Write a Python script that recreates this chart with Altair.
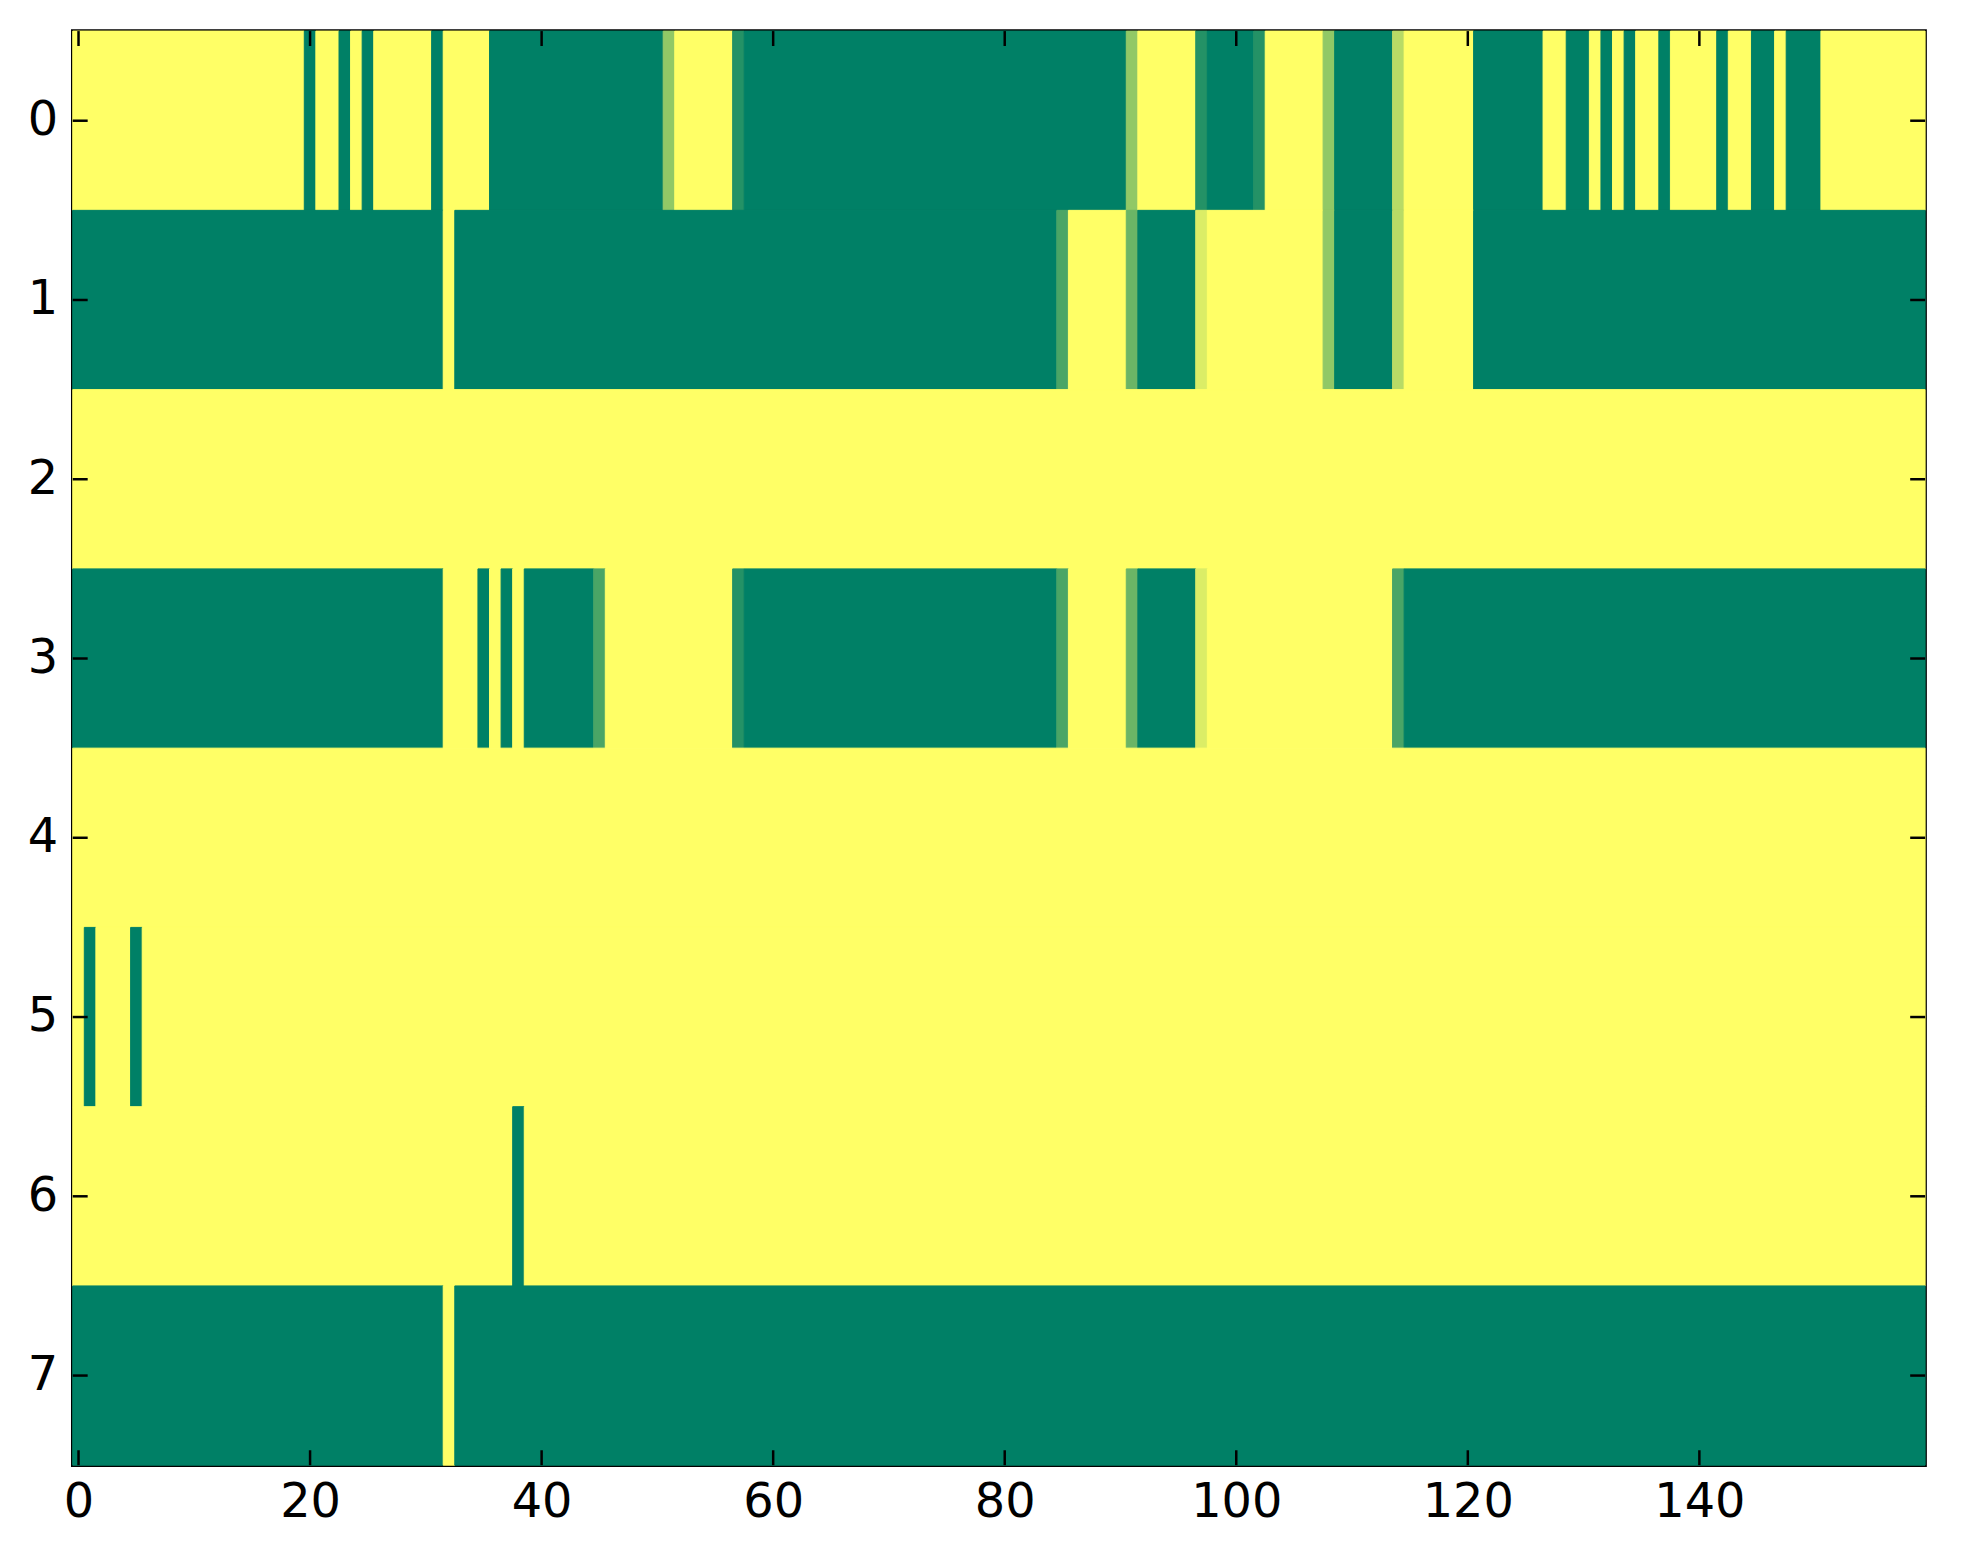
import pandas as pd
import altair as alt

# each row of the image as runs of (first column, last column, value)
ROW_0 = [(0, 19, 1), (20, 20, 0), (21, 22, 1), (23, 23, 0), (24, 24, 1), (25, 25, 0),
         (26, 30, 1), (31, 31, 0), (32, 35, 1), (36, 50, 0), (51, 51, 0.57), (52, 56, 1),
         (57, 57, 0.14), (58, 90, 0), (91, 91, 0.57), (92, 96, 1), (97, 97, 0.14),
         (98, 101, 0), (102, 102, 0.14), (103, 107, 1), (108, 108, 0.57), (109, 113, 0),
         (114, 114, 0.72), (115, 120, 1), (121, 126, 0), (127, 128, 1), (129, 130, 0),
         (131, 131, 1), (132, 132, 0), (133, 133, 1), (134, 134, 0), (135, 136, 1),
         (137, 137, 0), (138, 141, 1), (142, 142, 0), (143, 144, 1), (145, 146, 0),
         (147, 147, 1), (148, 150, 0), (151, 159, 1)]
ROW_1 = [(0, 31, 0), (32, 32, 1), (33, 84, 0), (85, 85, 0.29), (86, 90, 1), (91, 91, 0.42),
         (92, 96, 0), (97, 97, 0.86), (98, 107, 1), (108, 108, 0.57), (109, 113, 0),
         (114, 114, 0.72), (115, 120, 1), (121, 159, 0)]
ROW_2 = [(0, 159, 1)]
ROW_3 = [(0, 31, 0), (32, 34, 1), (35, 35, 0), (36, 36, 1), (37, 37, 0), (38, 38, 1),
         (39, 44, 0), (45, 45, 0.29), (46, 56, 1), (57, 57, 0.14), (58, 84, 0),
         (85, 85, 0.29), (86, 90, 1), (91, 91, 0.42), (92, 96, 0), (97, 97, 0.86),
         (98, 113, 1), (114, 114, 0.29), (115, 159, 0)]
ROW_4 = [(0, 159, 1)]
ROW_5 = [(0, 0, 1), (1, 1, 0), (2, 4, 1), (5, 5, 0), (6, 159, 1)]
ROW_6 = [(0, 37, 1), (38, 38, 0), (39, 159, 1)]
ROW_7 = [(0, 31, 0), (32, 32, 1), (33, 159, 0)]
ROWS = [ROW_0, ROW_1, ROW_2, ROW_3, ROW_4, ROW_5, ROW_6, ROW_7]

X_TICKS = [0, 20, 40, 60, 80, 100, 120, 140]
Y_TICKS = [0, 1, 2, 3, 4, 5, 6, 7]

W, H = 1860, 1440
FONT = 'DejaVu Sans'

records = []
for r, runs in enumerate(ROWS):
    for start, end, v in runs:
        records.append({'row': r, 'start': start, 'end': end, 'value': v})
df = pd.DataFrame(records)

xscale = alt.Scale(domain=[-0.5, 159.5], nice=False, zero=False)
yscale = alt.Scale(domain=[-0.5, 7.5], nice=False, zero=False, reverse=True)
cscale = alt.Scale(domain=[0, 1], range=['#008066', '#ffff66'], interpolate='rgb')

axis_style = dict(title=None, tickSize=0, domain=False, grid=False, format='d',
                  labelFontSize=48, labelFont=FONT, labelColor='black',
                  labelFlush=False, labelOverlap=False)

cells = alt.Chart(df).transform_calculate(
    x0='datum.start - 0.5', x1='datum.end + 0.5',
    y0='datum.row - 0.5', y1='datum.row + 0.5'
).mark_rect(strokeWidth=1).encode(
    x=alt.X('x0:Q', scale=xscale, axis=alt.Axis(values=X_TICKS, labelPadding=14, **axis_style)),
    x2='x1:Q',
    y=alt.Y('y0:Q', scale=yscale, axis=alt.Axis(values=Y_TICKS, labelPadding=15, **axis_style)),
    y2='y1:Q',
    color=alt.Color('value:Q', legend=None, scale=cscale),
    stroke=alt.Stroke('value:Q', legend=None, scale=cscale)
)

xt = pd.DataFrame({'t': X_TICKS})
yt = pd.DataFrame({'t': Y_TICKS})
tick_len = 15
x_bottom = alt.Chart(xt).mark_rule(color='black', strokeWidth=2.5).encode(
    x='t:Q', y=alt.value(H), y2=alt.value(H - tick_len))
x_top = alt.Chart(xt).mark_rule(color='black', strokeWidth=2.5).encode(
    x='t:Q', y=alt.value(0), y2=alt.value(tick_len))
y_left = alt.Chart(yt).mark_rule(color='black', strokeWidth=2.5).encode(
    y='t:Q', x=alt.value(0), x2=alt.value(tick_len))
y_right = alt.Chart(yt).mark_rule(color='black', strokeWidth=2.5).encode(
    y='t:Q', x=alt.value(W), x2=alt.value(W - tick_len))

chart = alt.layer(cells, x_bottom, x_top, y_left, y_right).properties(
    width=W, height=H,
    autosize=alt.AutoSizeParams(type='none'),
    padding={'left': 65, 'top': 20, 'right': 30, 'bottom': 90},
    background='white'
).configure_view(
    stroke='black', strokeWidth=3.5
)

chart.save("out.html", embed_options={"renderer": "svg", "actions": False})
